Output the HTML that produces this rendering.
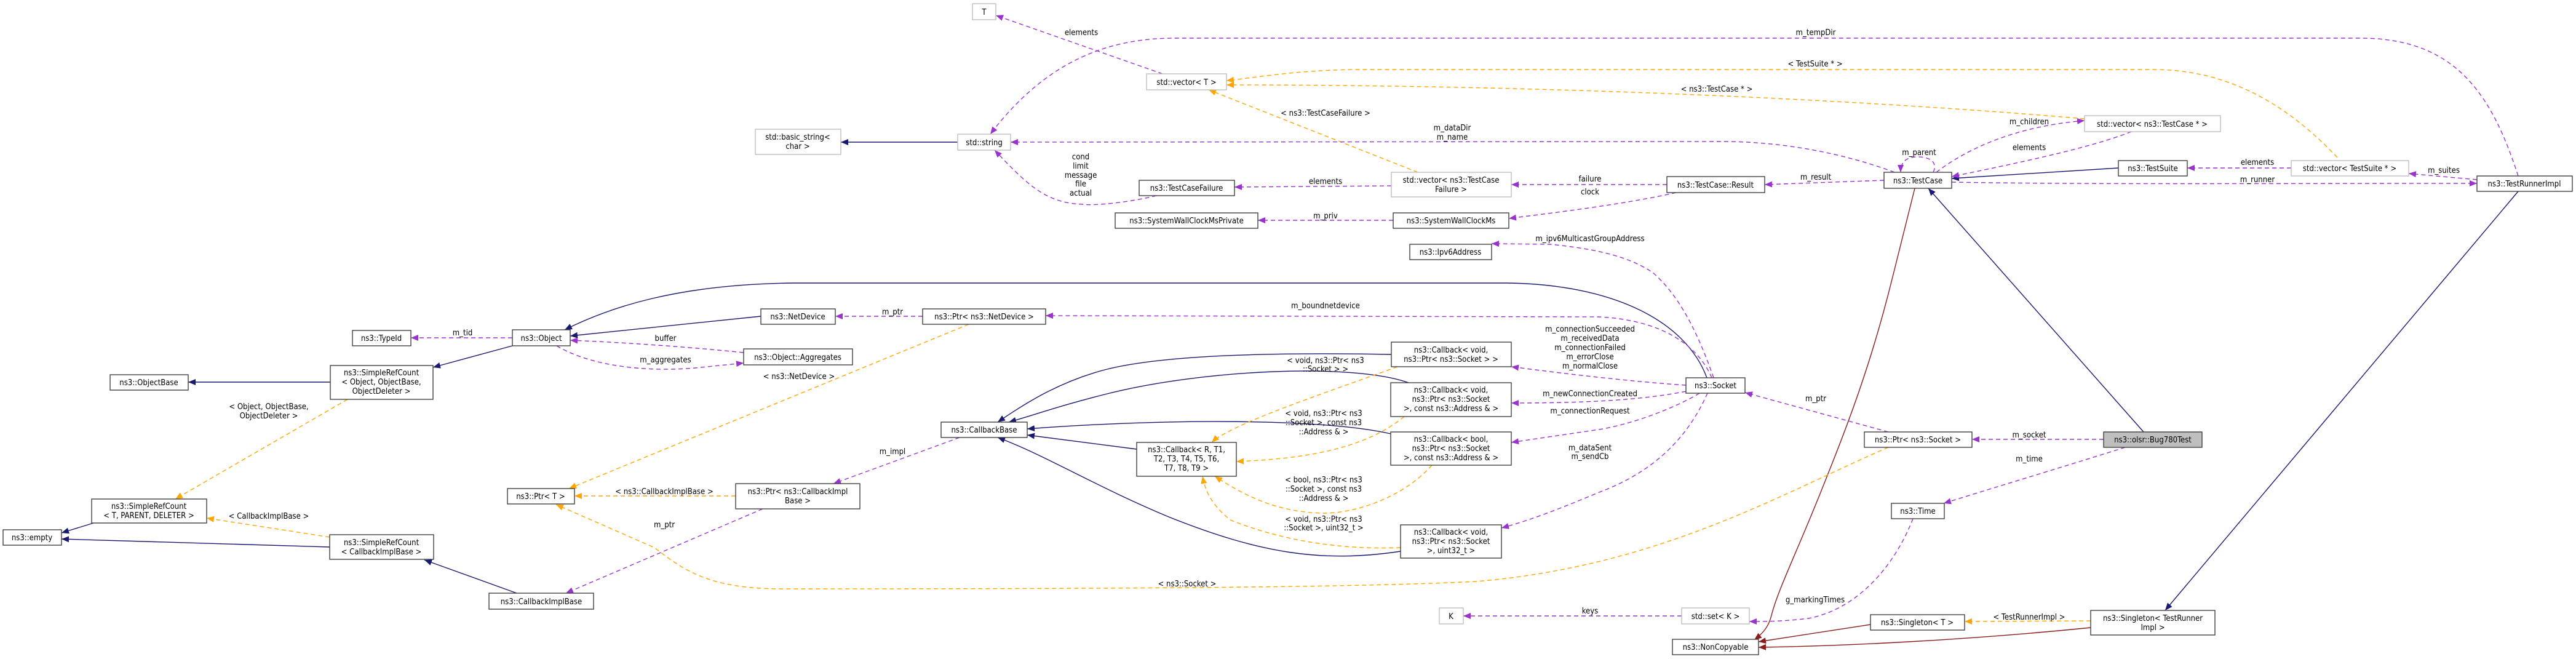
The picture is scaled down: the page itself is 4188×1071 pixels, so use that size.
<!DOCTYPE html>
<html><head><meta charset="utf-8"><style>
html,body{margin:0;padding:0;background:#fff;}
svg{display:block;}
text{font-family:"DejaVu Sans Condensed","DejaVu Sans","Liberation Sans",sans-serif;font-size:13px;fill:#000;text-anchor:middle;}
.b{fill:#fff;stroke:#404040;stroke-width:1.4;}
.g{fill:#fff;stroke:#bfbfbf;stroke-width:1.4;}
.bl{fill:none;stroke:#191970;stroke-width:1.4;}
.rd{fill:none;stroke:#8b1a1a;stroke-width:1.4;}
.or{fill:none;stroke:#ffa500;stroke-width:1.4;stroke-dasharray:7,5;}
.pu{fill:none;stroke:#9a32cd;stroke-width:1.4;stroke-dasharray:7,5;}
</style></head><body>
<svg width="4188" height="1071" viewBox="0 0 4188 1071" xmlns="http://www.w3.org/2000/svg">
<defs>
<marker id="mb" markerUnits="userSpaceOnUse" markerWidth="12" markerHeight="10" refX="12" refY="5" orient="auto"><path d="M0,0 L12,5 L0,10 z" fill="#191970"/></marker>
<marker id="mr" markerUnits="userSpaceOnUse" markerWidth="12" markerHeight="10" refX="12" refY="5" orient="auto"><path d="M0,0 L12,5 L0,10 z" fill="#8b1a1a"/></marker>
<marker id="mo" markerUnits="userSpaceOnUse" markerWidth="12" markerHeight="10" refX="12" refY="5" orient="auto"><path d="M0,0 L12,5 L0,10 z" fill="#ffa500"/></marker>
<marker id="mp" markerUnits="userSpaceOnUse" markerWidth="12" markerHeight="10" refX="12" refY="5" orient="auto"><path d="M0,0 L12,5 L0,10 z" fill="#9a32cd"/></marker>
</defs>

<!-- blue -->
<g class="bl" marker-end="url(#mb)">
<path d="M537,621 L306,621"/>
<path d="M833,562 L704,597"/>
<path d="M152,850 L100,866"/>
<path d="M536,889 L100,876"/>
<path d="M840,964 L690,910"/>
<path d="M1237,514 L927,546"/>
<path d="M2775,614 C2740,520 2620,462 2450,460 L1290,460 C1100,462 990,500 918,536"/>
<path d="M1557,231 L1367,231"/>
<path d="M2262,576 C2100,573 1900,575 1800,600 C1720,620 1660,660 1622,686"/>
<path d="M2290,622 C2200,590 1960,600 1800,640 C1720,660 1680,675 1640,686"/>
<path d="M2261,705 C2150,680 1900,680 1670,697"/>
<path d="M1848,730 L1670,707"/>
<path d="M2277,896 C2150,915 2050,900 1900,840 C1780,790 1700,740 1622,711"/>
<path d="M3444,273 L3173,290"/>
<path d="M3485,702 L3135,306"/>
<path d="M4094,311 L3520,992"/>
</g>
<!-- red -->
<g class="rd" marker-end="url(#mr)">
<path d="M3113,306 L3077,450 C3040,600 3000,700 2960,800 C2920,900 2890,960 2880,1000 C2875,1020 2865,1030 2852,1040"/>
<path d="M3041,1015 L2859,1043"/>
<path d="M3399,1020 C3200,1040 3000,1050 2859,1052"/>
</g>
<!-- orange -->
<g class="or" marker-end="url(#mo)">
<path d="M565,649 L285,811"/>
<path d="M536,873 L336,842"/>
<path d="M1196,806 L934,806"/>
<path d="M1575,527 L925,794"/>
<path d="M3070,727 C2900,800 2700,920 2400,945 C2200,955 1800,957 1271,957 C1150,957 1110,925 1064,890 L904,820"/>
<path d="M2305,280 L1965,146"/>
<path d="M3389,193 C3000,160 2500,138 1994,138"/>
<path d="M3800,256 C3700,150 3600,113 3500,113 L2200,113 C2100,115 2050,125 1994,131"/>
<path d="M2272,596 C2150,640 2000,690 1970,719"/>
<path d="M2283,677 C2230,720 2150,745 2010,750"/>
<path d="M2328,756 C2280,810 2200,835 2150,834 C2080,832 2030,810 1975,774"/>
<path d="M2277,890 C2200,893 2100,885 2000,845 C1970,820 1960,800 1955,774"/>
<path d="M3399,1009 L3194,1010"/>
</g>
<!-- purple -->
<g class="pu" marker-end="url(#mp)">
<path d="M833,549 L668,549"/>
<path d="M1209,573 C1100,562 1000,556 927,553"/>
<path d="M905,562 C960,595 1050,605 1130,598 L1209,590"/>
<path d="M1500,514 L1358,514"/>
<path d="M2783,614 C2760,560 2700,520 2600,515 L1700,513"/>
<path d="M1560,711 L1355,786"/>
<path d="M1240,827 L920,964"/>
<path d="M1880,318 C1840,328 1780,335 1760,332 C1700,330 1670,300 1617,244"/>
<path d="M2262,302 L2007,304"/>
<path d="M1890,120 L1619,25"/>
<path d="M4094,286 C4050,150 3990,62 3837,62 L1910,62 C1800,62 1700,100 1610,218"/>
<path d="M3080,280 C3000,250 2900,230 2800,230 L1643,231"/>
<path d="M2710,300 L2457,300"/>
<path d="M2725,313 C2650,330 2550,343 2453,355"/>
<path d="M2265,358 L2045,358"/>
<path d="M3063,293 L2869,300"/>
<path d="M3143,280 C3150,265 3140,255 3118,255 C3100,255 3090,262 3090,280"/>
<path d="M3148,280 C3200,240 3280,205 3389,196"/>
<path d="M3465,214 C3400,240 3280,265 3173,287"/>
<path d="M3725,273 L3556,273"/>
<path d="M4027,292 L3916,282"/>
<path d="M3173,296 C3400,300 3700,298 4027,298"/>
<path d="M2786,614 C2760,540 2730,480 2687,443 C2650,418 2600,405 2520,397 L2425,396"/>
<path d="M2741,626 C2650,620 2550,608 2457,596"/>
<path d="M2741,636 C2680,648 2600,655 2457,655"/>
<path d="M2763,639 C2720,665 2650,690 2600,698 L2457,719"/>
<path d="M2776,639 C2740,720 2680,770 2600,800 C2540,825 2490,845 2441,858"/>
<path d="M3070,702 L2837,638"/>
<path d="M3420,714 L3206,714"/>
<path d="M3455,727 C3350,760 3250,790 3160,818"/>
<path d="M3110,843 C3080,920 3020,990 2940,1005 C2900,1010 2870,1010 2844,1010"/>
<path d="M2734,1001 L2379,1001"/>
</g>

<!-- boxes -->
<rect class="g" x="1581" y="6" width="38" height="26"/><text x="1600" y="24">T</text>
<rect class="g" x="1228" y="210" width="139" height="41"/><text x="1297" y="227">std::basic_string&lt;</text><text x="1297" y="242">char &gt;</text>
<rect class="g" x="1557" y="218" width="86" height="26"/><text x="1600" y="236">std::string</text>
<rect class="g" x="1864" y="120" width="130" height="26"/><text x="1929" y="138">std::vector&lt; T &gt;</text>
<rect class="b" x="1852" y="293" width="155" height="25"/><text x="1929" y="310">ns3::TestCaseFailure</text>
<rect class="b" x="1813" y="346" width="232" height="25"/><text x="1929" y="363">ns3::SystemWallClockMsPrivate</text>
<rect class="g" x="2262" y="280" width="195" height="40"/><text x="2359" y="297">std::vector&lt; ns3::TestCase</text><text x="2359" y="312">Failure &gt;</text>
<rect class="b" x="2265" y="346" width="188" height="25"/><text x="2359" y="363">ns3::SystemWallClockMs</text>
<rect class="b" x="2292" y="397" width="133" height="25"/><text x="2358" y="414">ns3::Ipv6Address</text>
<rect class="b" x="2710" y="287" width="159" height="26"/><text x="2789" y="305">ns3::TestCase::Result</text>
<rect class="b" x="3063" y="280" width="110" height="26"/><text x="3118" y="298">ns3::TestCase</text>
<rect class="g" x="3389" y="188" width="221" height="26"/><text x="3499" y="206">std::vector&lt; ns3::TestCase * &gt;</text>
<rect class="b" x="3444" y="261" width="112" height="25"/><text x="3500" y="278">ns3::TestSuite</text>
<rect class="g" x="3725" y="261" width="191" height="25"/><text x="3820" y="278">std::vector&lt; TestSuite * &gt;</text>
<rect class="b" x="4027" y="286" width="155" height="25"/><text x="4104" y="303">ns3::TestRunnerImpl</text>
<rect class="b" x="573" y="537" width="95" height="25"/><text x="620" y="554">ns3::TypeId</text>
<rect class="b" x="179" y="609" width="127" height="25"/><text x="242" y="626">ns3::ObjectBase</text>
<rect class="b" x="537" y="594" width="167" height="55"/><text x="620" y="610">ns3::SimpleRefCount</text><text x="620" y="625">&lt; Object, ObjectBase,</text><text x="620" y="640">ObjectDeleter &gt;</text>
<rect class="b" x="833" y="536" width="94" height="26"/><text x="880" y="554">ns3::Object</text>
<rect class="b" x="1237" y="502" width="121" height="25"/><text x="1297" y="519">ns3::NetDevice</text>
<rect class="b" x="1209" y="567" width="177" height="26"/><text x="1297" y="585">ns3::Object::Aggregates</text>
<rect class="b" x="1500" y="502" width="200" height="25"/><text x="1600" y="519">ns3::Ptr&lt; ns3::NetDevice &gt;</text>
<rect class="b" x="1530" y="686" width="140" height="25"/><text x="1600" y="703">ns3::CallbackBase</text>
<rect class="b" x="5" y="861" width="95" height="25"/><text x="52" y="878">ns3::empty</text>
<rect class="b" x="149" y="811" width="187" height="39"/><text x="242" y="827">ns3::SimpleRefCount</text><text x="242" y="842">&lt; T, PARENT, DELETER &gt;</text>
<rect class="b" x="536" y="869" width="169" height="40"/><text x="620" y="886">ns3::SimpleRefCount</text><text x="620" y="901">&lt; CallbackImplBase &gt;</text>
<rect class="b" x="825" y="794" width="109" height="25"/><text x="879" y="811">ns3::Ptr&lt; T &gt;</text>
<rect class="b" x="1196" y="786" width="202" height="41"/><text x="1297" y="803">ns3::Ptr&lt; ns3::CallbackImpl</text><text x="1297" y="818">Base &gt;</text>
<rect class="b" x="795" y="964" width="170" height="26"/><text x="880" y="982">ns3::CallbackImplBase</text>
<rect class="b" x="2262" y="556" width="195" height="40"/><text x="2359" y="573">ns3::Callback&lt; void,</text><text x="2359" y="588">ns3::Ptr&lt; ns3::Socket &gt; &gt;</text>
<rect class="b" x="2261" y="622" width="196" height="55"/><text x="2359" y="638">ns3::Callback&lt; void,</text><text x="2359" y="653">ns3::Ptr&lt; ns3::Socket</text><text x="2359" y="668">&gt;, const ns3::Address &amp; &gt;</text>
<rect class="b" x="2261" y="702" width="196" height="54"/><text x="2359" y="718">ns3::Callback&lt; bool,</text><text x="2359" y="733">ns3::Ptr&lt; ns3::Socket</text><text x="2359" y="748">&gt;, const ns3::Address &amp; &gt;</text>
<rect class="b" x="1848" y="719" width="162" height="55"/><text x="1929" y="735">ns3::Callback&lt; R, T1,</text><text x="1929" y="750">T2, T3, T4, T5, T6,</text><text x="1929" y="765">T7, T8, T9 &gt;</text>
<rect class="b" x="2277" y="853" width="164" height="54"/><text x="2359" y="869">ns3::Callback&lt; void,</text><text x="2359" y="884">ns3::Ptr&lt; ns3::Socket</text><text x="2359" y="899">&gt;, uint32_t &gt;</text>
<rect class="g" x="2340" y="988" width="39" height="26"/><text x="2359" y="1006">K</text>
<rect class="b" x="2741" y="614" width="96" height="25"/><text x="2789" y="631">ns3::Socket</text>
<rect class="b" x="3031" y="702" width="175" height="25"/><text x="3118" y="719">ns3::Ptr&lt; ns3::Socket &gt;</text>
<rect class="b" x="3075" y="818" width="86" height="25"/><text x="3118" y="835">ns3::Time</text>
<rect class="g" x="2734" y="988" width="110" height="26"/><text x="2789" y="1006">std::set&lt; K &gt;</text>
<rect class="b" x="3041" y="999" width="153" height="25"/><text x="3117" y="1016">ns3::Singleton&lt; T &gt;</text>
<rect class="b" x="2719" y="1039" width="140" height="25"/><text x="2789" y="1056">ns3::NonCopyable</text>
<rect x="3420" y="702" width="160" height="25" fill="#bfbfbf" stroke="#404040" stroke-width="1.4"/><text x="3500" y="719">ns3::olsr::Bug780Test</text>
<rect class="b" x="3399" y="992" width="202" height="40"/><text x="3500" y="1009">ns3::Singleton&lt; TestRunner</text><text x="3500" y="1024">Impl &gt;</text>

<!-- labels -->
<text x="1758" y="57">elements</text>
<text x="2952" y="57">m_tempDir</text>
<text x="2951" y="108">&lt; TestSuite * &gt;</text>
<text x="2791" y="149">&lt; ns3::TestCase * &gt;</text>
<text x="3299" y="202">m_children</text>
<text x="2155" y="188">&lt; ns3::TestCaseFailure &gt;</text>
<text x="2361" y="212">m_dataDir</text><text x="2361" y="227">m_name</text>
<text x="3299" y="244">elements</text>
<text x="3120" y="252">m_parent</text>
<text x="1757" y="259">cond</text><text x="1757" y="274">limit</text><text x="1757" y="289">message</text><text x="1757" y="303">file</text><text x="1757" y="318">actual</text>
<text x="2155" y="299">elements</text>
<text x="2952" y="292">m_result</text>
<text x="2585" y="295">failure</text><text x="2585" y="316">clock</text>
<text x="3670" y="268">elements</text>
<text x="3973" y="281">m_suites</text>
<text x="3670" y="296">m_runner</text>
<text x="2155" y="355">m_priv</text>
<text x="2585" y="392">m_ipv6MulticastGroupAddress</text>
<text x="2155" y="501">m_boundnetdevice</text>
<text x="1451" y="511">m_ptr</text>
<text x="752" y="545">m_tid</text>
<text x="1082" y="554">buffer</text>
<text x="1082" y="589">m_aggregates</text>
<text x="1299" y="616">&lt; ns3::NetDevice &gt;</text>
<text x="437" y="665">&lt; Object, ObjectBase,</text><text x="437" y="680">ObjectDeleter &gt;</text>
<text x="2585" y="539">m_connectionSucceeded</text><text x="2585" y="554">m_receivedData</text><text x="2585" y="569">m_connectionFailed</text><text x="2585" y="584">m_errorClose</text><text x="2585" y="599">m_normalClose</text>
<text x="2585" y="644">m_newConnectionCreated</text>
<text x="2585" y="672">m_connectionRequest</text>
<text x="2585" y="732">m_dataSent</text><text x="2585" y="746">m_sendCb</text>
<text x="2155" y="590">&lt; void, ns3::Ptr&lt; ns3</text><text x="2155" y="604">::Socket &gt; &gt;</text>
<text x="2152" y="676">&lt; void, ns3::Ptr&lt; ns3</text><text x="2152" y="691">::Socket &gt;, const ns3</text><text x="2152" y="706">::Address &amp; &gt;</text>
<text x="1451" y="738">m_impl</text>
<text x="2152" y="784">&lt; bool, ns3::Ptr&lt; ns3</text><text x="2152" y="799">::Socket &gt;, const ns3</text><text x="2152" y="814">::Address &amp; &gt;</text>
<text x="2152" y="848">&lt; void, ns3::Ptr&lt; ns3</text><text x="2152" y="862">::Socket &gt;, uint32_t &gt;</text>
<text x="2952" y="652">m_ptr</text>
<text x="3299" y="711">m_socket</text>
<text x="3299" y="750">m_time</text>
<text x="1080" y="803">&lt; ns3::CallbackImplBase &gt;</text>
<text x="437" y="843">&lt; CallbackImplBase &gt;</text>
<text x="1080" y="857">m_ptr</text>
<text x="1930" y="953">&lt; ns3::Socket &gt;</text>
<text x="2951" y="979">g_markingTimes</text>
<text x="2585" y="997">keys</text>
<text x="3299" y="1007">&lt; TestRunnerImpl &gt;</text>
</svg>
</body></html>
